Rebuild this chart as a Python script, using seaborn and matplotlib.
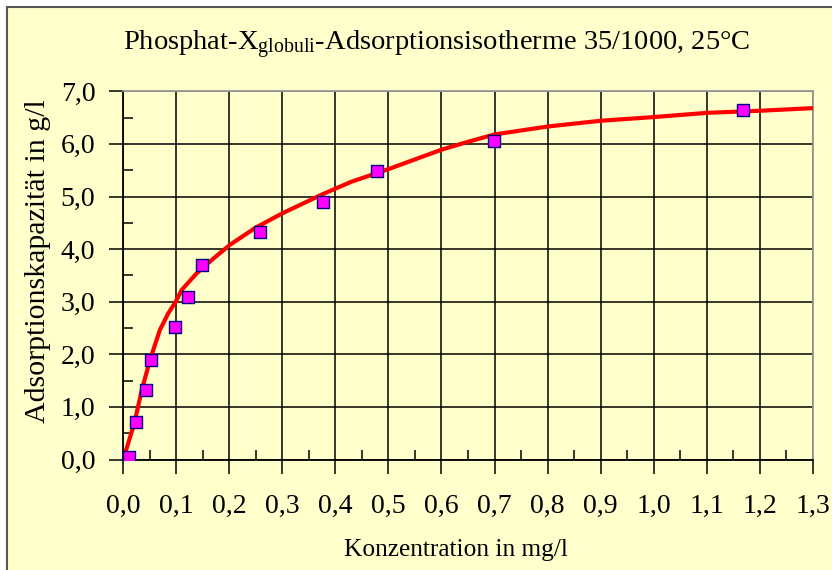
import matplotlib
matplotlib.use("Agg")
import matplotlib.pyplot as plt
import seaborn as sns
import pandas as pd
from matplotlib.patches import Rectangle
from matplotlib.ticker import FixedLocator, FixedFormatter, MultipleLocator

# ---- data ----
conc_points = [0.011, 0.024, 0.043, 0.052, 0.097, 0.123, 0.148, 0.258, 0.377, 0.479, 0.699, 1.169]
cap_points = [0.05, 0.71, 1.32, 1.90, 2.52, 3.09, 3.70, 4.32, 4.89, 5.49, 6.05, 6.65]

conc_curve = [0.0, 0.021, 0.035, 0.0505, 0.069, 0.085, 0.099, 0.110, 0.1385, 0.170, 0.201,
              0.250, 0.300, 0.375, 0.430, 0.500, 0.600, 0.650, 0.700, 0.800, 0.900,
              1.000, 1.100, 1.200, 1.300]
cap_curve = [0.0, 0.69, 1.32, 1.89, 2.46, 2.78, 3.00, 3.22, 3.54, 3.82, 4.08,
             4.41, 4.68, 5.04, 5.28, 5.52, 5.89, 6.04, 6.18, 6.33, 6.44,
             6.51, 6.59, 6.63, 6.68]

x_ticks = [0.0, 0.1, 0.2, 0.3, 0.4, 0.5, 0.6, 0.7, 0.8, 0.9, 1.0, 1.1, 1.2, 1.3]
x_tick_labels = ["0,0", "0,1", "0,2", "0,3", "0,4", "0,5", "0,6", "0,7", "0,8", "0,9",
                 "1,0", "1,1", "1,2", "1,3"]
y_ticks = [0.0, 1.0, 2.0, 3.0, 4.0, 5.0, 6.0, 7.0]
y_tick_labels = ["0,0", "1,0", "2,0", "3,0", "4,0", "5,0", "6,0", "7,0"]

title_text = r"Phosphat-X$_{\mathrm{globuli}}$-Adsorptionsisotherme 35/1000, 25°C"
x_label = "Konzentration in mg/l"
y_label = "Adsorptionskapazität in g/l"

# ---- style ----
BG = "#FFFFCC"
sns.set_theme(style="white")
plt.rcParams["font.family"] = ["Liberation Serif", "DejaVu Serif"]
plt.rcParams["mathtext.fontset"] = "custom"
plt.rcParams["mathtext.rm"] = "Liberation Serif"
plt.rcParams["mathtext.it"] = "Liberation Serif:italic"

W, H = 832, 570
fig = plt.figure(figsize=(W / 100, H / 100), dpi=100)
fig.patch.set_facecolor("white")
fig.patches.append(Rectangle((7 / W, -0.1), 1.2, (1 - 7 / H) + 0.1,
                             transform=fig.transFigure, facecolor=BG,
                             edgecolor="#555555", linewidth=1.5, zorder=-10))

ax = fig.add_axes([123.2 / W, 1 - 459.5 / H, (812.8 - 123.2) / W, (459.5 - 91.3) / H])
ax.set_zorder(5)
ax.set_facecolor(BG)

df_curve = pd.DataFrame({"c": conc_curve, "q": cap_curve})
df_pts = pd.DataFrame({"c": conc_points, "q": cap_points})

sns.lineplot(data=df_curve, x="c", y="q", ax=ax, color="#FF0000", linewidth=3.0,
             sort=False, zorder=3)
sns.scatterplot(data=df_pts, x="c", y="q", ax=ax, marker="s", s=85,
                color="#FF00FF", edgecolor="#000080", linewidth=1.0, zorder=4)

ax.set_xlim(0, 1.3)
ax.set_ylim(0, 7.0)

ax.xaxis.set_major_locator(FixedLocator(x_ticks))
ax.xaxis.set_major_formatter(FixedFormatter(x_tick_labels))
ax.yaxis.set_major_locator(FixedLocator(y_ticks))
ax.yaxis.set_major_formatter(FixedFormatter(y_tick_labels))
ax.xaxis.set_minor_locator(MultipleLocator(0.05))
ax.yaxis.set_minor_locator(MultipleLocator(0.5))

ax.grid(True, which="major", color="black", linewidth=1.1)
ax.set_axisbelow(True)

ax.tick_params(axis="both", which="major", direction="out", length=10, width=1.1,
               color="black", labelsize=20, labelcolor="black")
ax.tick_params(axis="x", which="major", pad=15, bottom=True)
ax.tick_params(axis="y", which="major", pad=10, left=True)
ax.tick_params(axis="both", which="minor", direction="in", length=7, width=1.1,
               color="black", bottom=True, left=True)

for side in ["left", "bottom"]:
    ax.spines[side].set_color("black")
    ax.spines[side].set_linewidth(1.3)
for side in ["top", "right"]:
    ax.spines[side].set_visible(True)
    ax.spines[side].set_color("#999999")
    ax.spines[side].set_linewidth(1.3)

ax.set_xlabel("")
ax.set_ylabel("")
fig.text(456 / W, 1 - 550 / H, x_label, ha="center", va="center", fontsize=18.3, color="black")
fig.text(38 / W, 1 - 261 / H, y_label, ha="center", va="center", rotation=90,
         fontsize=21.5, color="black")
fig.text(437 / W, 1 - 45 / H, title_text, ha="center", va="center", fontsize=20.5, color="black")

fig.savefig("out.png", dpi=100, facecolor=fig.get_facecolor())
